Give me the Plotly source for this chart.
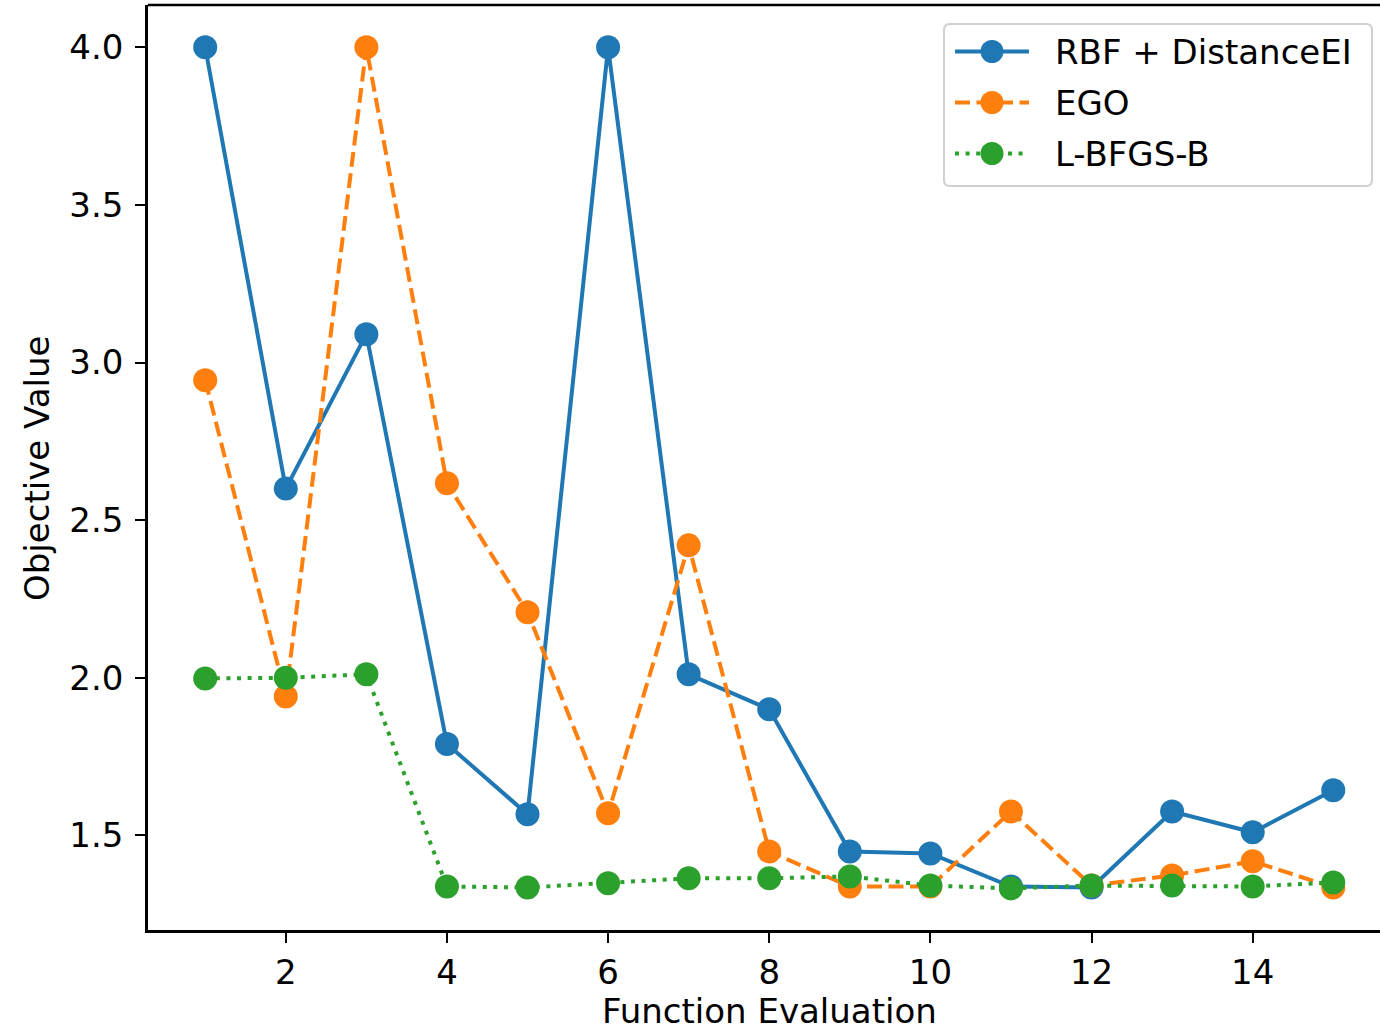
import plotly.graph_objects as go

# evaluations and objective values
evals = list(range(1, 16))
rbf = [4.0, 2.60, 3.09, 1.79, 1.567, 4.0, 2.011, 1.90, 1.449, 1.443, 1.338, 1.335, 1.576, 1.51, 1.643]
ego = [2.944, 1.941, 4.0, 2.617, 2.208, 1.570, 2.420, 1.449, 1.338, 1.338, 1.576, 1.341, 1.373, 1.418, 1.335]
lbfgs = [1.998, 2.0, 2.011, 1.338, 1.335, 1.348, 1.364, 1.364, 1.370, 1.341, 1.332, 1.341, 1.341, 1.338, 1.351]

series_names = ["RBF + DistanceEI", "EGO", "L-BFGS-B"]
colors = ["#1f77b4", "#ff7f0e", "#2ca02c"]
dashes = ["solid", "15px,6.5px", "4px,6.6px"]

W, H = 1380, 1033
ML, MR, MT, MB = 148, 0, 5, 103


def px(x):  # pixel -> paper x
    return (x - ML) / (W - ML - MR)


def py(y):  # pixel -> paper y
    return 1 - (y - MT) / (H - MT - MB)


fig = go.Figure()
for name, ys, col, dash in zip(series_names, [rbf, ego, lbfgs], colors, dashes):
    fig.add_trace(go.Scatter(
        x=evals, y=ys, name=name,
        mode="lines+markers",
        line=dict(color=col, width=4, dash=dash),
        marker=dict(size=24, color=col),
        showlegend=False,
    ))

axis_common = dict(
    showgrid=False, zeroline=False, automargin=False,
    showline=True, linecolor="black", linewidth=2.7,
    ticks="outside", ticklen=10, tickwidth=2, tickcolor="black",
    tickfont=dict(size=34, color="black"),
)

fig.update_layout(
    width=W, height=H,
    margin=dict(l=ML, r=MR, t=MT, b=MB),
    plot_bgcolor="white", paper_bgcolor="white",
    font=dict(family="DejaVu Sans", size=34, color="black"),
    xaxis=dict(range=[0.29, 15.58], tickvals=[2, 4, 6, 8, 10, 12, 14],
               ticklabelstandoff=0, **axis_common),
    yaxis=dict(range=[1.2, 4.134], tickvals=[1.5, 2.0, 2.5, 3.0, 3.5, 4.0],
               tickformat=".1f", ticklabelstandoff=5, **axis_common),
    showlegend=False,
)

# top spine (right side is cut off in the reference)
fig.add_shape(type="line", xref="paper", yref="paper", x0=0, x1=1, y0=1, y1=1,
              line=dict(color="black", width=2.7))

# axis titles
fig.add_annotation(text="Function Evaluation", xref="paper", yref="paper",
                   x=px(769), y=py(1011), xanchor="center", yanchor="middle",
                   showarrow=False, font=dict(size=34))
fig.add_annotation(text="Objective Value", xref="paper", yref="paper",
                   x=px(37), y=py(469), xanchor="center", yanchor="middle",
                   textangle=-90, showarrow=False, font=dict(size=34))

# legend drawn by hand, matplotlib style
x0, x1, y0, y1, r = px(944), px(1372), py(24), py(186), 6
rx, ry = r / (W - ML - MR), r / (H - MT - MB)
path = (f"M {x0 + rx},{y0} L {x1 - rx},{y0} Q {x1},{y0} {x1},{y0 - ry} "
        f"L {x1},{y1 + ry} Q {x1},{y1} {x1 - rx},{y1} L {x0 + rx},{y1} "
        f"Q {x0},{y1} {x0},{y1 + ry} L {x0},{y0 - ry} Q {x0},{y0} {x0 + rx},{y0} Z")
fig.add_shape(type="path", xref="paper", yref="paper", path=path,
              line=dict(color="#d0d0d0", width=2), fillcolor="rgba(255,255,255,0.8)")

rows = [51.5, 102.5, 153.5]
for name, col, dash, row in zip(series_names, colors, dashes, rows):
    fig.add_shape(type="line", xref="paper", yref="paper",
                  x0=px(955), x1=px(1029), y0=py(row), y1=py(row),
                  line=dict(color=col, width=4, dash=dash))
    fig.add_shape(type="circle", xref="paper", yref="paper",
                  xsizemode="pixel", ysizemode="pixel",
                  xanchor=px(992), yanchor=py(row),
                  x0=-11.5, x1=11.5, y0=-11.5, y1=11.5,
                  line=dict(width=0), fillcolor=col)
    fig.add_annotation(text=name, xref="paper", yref="paper",
                       x=px(1053), y=py(row), xanchor="left", yanchor="middle",
                       showarrow=False, font=dict(size=34))

# drop the browser's default body margin so the figure sits at the page corner
fig.write_html("out.html", config={"displayModeBar": False},
               post_script="document.body.style.margin='0';")
